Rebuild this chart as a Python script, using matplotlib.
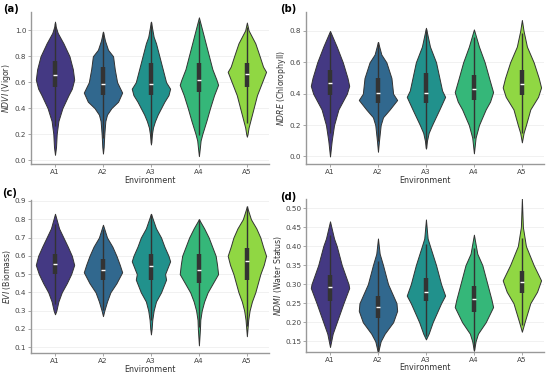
import matplotlib
matplotlib.use("Agg")
import matplotlib.pyplot as plt
import seaborn as sns
import numpy as np

envs = ["A1", "A2", "A3", "A4", "A5"]
colors = sns.color_palette("viridis", 5)

# violin outlines: (value, relative half width)
ndvi_shape = [
    [(0.04, 0), (0.1, 3), (0.2, 5), (0.3, 10), (0.4, 22), (0.5, 40), (0.55, 50), (0.62, 57),
     (0.7, 53), (0.8, 43), (0.9, 25), (0.98, 8), (1.03, 2), (1.067, 0)],
    [(0.05, 0), (0.1, 2), (0.2, 4), (0.3, 7), (0.35, 12), (0.4, 25), (0.45, 45), (0.52, 57),
     (0.6, 42), (0.7, 35), (0.8, 30), (0.85, 15), (0.92, 6), (0.99, 0)],
    [(0.12, 0), (0.2, 3), (0.25, 6), (0.3, 12), (0.35, 20), (0.4, 30), (0.45, 40), (0.5, 52),
     (0.55, 57), (0.6, 45), (0.7, 35), (0.8, 25), (0.9, 15), (0.95, 8), (1.067, 0)],
    [(0.03, 0), (0.1, 3), (0.15, 5), (0.2, 10), (0.3, 22), (0.4, 33), (0.5, 45), (0.58, 57),
     (0.62, 52), (0.7, 40), (0.8, 30), (0.9, 20), (1.0, 10), (1.1, 0)],
    [(0.18, 0), (0.2, 2), (0.25, 5), (0.32, 12), (0.4, 20), (0.5, 30), (0.6, 45), (0.68, 57),
     (0.72, 48), (0.8, 38), (0.9, 25), (0.95, 15), (1.0, 5), (1.06, 0)],
]
ndre_shape = [
    [(0.0, 0), (0.1, 5), (0.2, 12), (0.3, 25), (0.4, 50), (0.45, 57), (0.5, 52),
     (0.6, 38), (0.7, 20), (0.8, 0)],
    [(0.03, 0), (0.1, 3), (0.2, 8), (0.25, 15), (0.3, 35), (0.36, 57), (0.4, 45),
     (0.5, 40), (0.6, 25), (0.65, 10), (0.73, 0)],
    [(0.05, 0), (0.1, 3), (0.15, 8), (0.2, 18), (0.3, 40), (0.38, 57), (0.42, 48),
     (0.5, 40), (0.6, 30), (0.7, 12), (0.82, 0)],
    [(0.02, 0), (0.12, 5), (0.2, 15), (0.3, 35), (0.35, 48), (0.41, 57), (0.5, 45),
     (0.6, 32), (0.7, 15), (0.81, 0)],
    [(0.09, 0), (0.15, 5), (0.2, 12), (0.3, 25), (0.38, 48), (0.44, 57), (0.5, 50),
     (0.6, 35), (0.7, 15), (0.8, 5), (0.87, 0)],
]
evi_shape = [
    [(0.28, 0), (0.3, 4), (0.35, 10), (0.4, 20), (0.45, 35), (0.5, 48), (0.55, 57),
     (0.6, 50), (0.65, 38), (0.7, 25), (0.75, 12), (0.83, 0)],
    [(0.27, 0), (0.3, 4), (0.35, 12), (0.4, 22), (0.45, 40), (0.51, 57), (0.55, 50),
     (0.6, 40), (0.65, 28), (0.7, 12), (0.77, 0)],
    [(0.17, 0), (0.2, 2), (0.25, 4), (0.3, 8), (0.35, 15), (0.4, 30), (0.47, 45), (0.5, 42),
     (0.57, 57), (0.6, 52), (0.65, 40), (0.7, 30), (0.75, 15), (0.83, 0)],
    [(0.11, 0), (0.2, 3), (0.25, 4), (0.3, 8), (0.35, 15), (0.4, 25), (0.45, 40), (0.5, 55),
     (0.55, 52), (0.6, 48), (0.65, 38), (0.7, 28), (0.75, 15), (0.8, 0)],
    [(0.16, 0), (0.25, 4), (0.3, 8), (0.35, 15), (0.4, 25), (0.5, 40), (0.55, 50),
     (0.6, 57), (0.65, 48), (0.7, 40), (0.75, 28), (0.8, 12), (0.87, 0)],
]
ndmi_shape = [
    [(0.135, 0), (0.17, 8), (0.2, 20), (0.25, 40), (0.29, 57), (0.3, 55), (0.35, 35),
     (0.4, 20), (0.42, 12), (0.465, 0)],
    [(0.12, 0), (0.15, 8), (0.17, 20), (0.2, 45), (0.23, 57), (0.25, 55), (0.27, 45),
     (0.3, 30), (0.35, 15), (0.38, 5), (0.42, 0)],
    [(0.155, 0), (0.17, 8), (0.2, 20), (0.25, 45), (0.27, 57), (0.3, 45), (0.35, 30),
     (0.4, 12), (0.42, 5), (0.47, 0)],
    [(0.125, 0), (0.15, 5), (0.17, 12), (0.2, 35), (0.24, 57), (0.26, 52), (0.3, 40),
     (0.35, 25), (0.38, 10), (0.43, 0)],
    [(0.175, 0), (0.2, 8), (0.25, 25), (0.28, 45), (0.31, 57), (0.35, 35), (0.4, 12),
     (0.45, 3), (0.525, 0)],
]

# box statistics (lower quartile, median, upper quartile)
ndvi_q1 = [0.56, 0.50, 0.50, 0.525, 0.56]
ndvi_med = [0.655, 0.585, 0.59, 0.615, 0.66]
ndvi_q3 = [0.76, 0.72, 0.745, 0.745, 0.745]
ndre_q1 = [0.39, 0.34, 0.34, 0.36, 0.39]
ndre_med = [0.47, 0.405, 0.405, 0.43, 0.46]
ndre_q3 = [0.55, 0.50, 0.53, 0.52, 0.55]
evi_q1 = [0.50, 0.47, 0.465, 0.45, 0.47]
evi_med = [0.555, 0.52, 0.545, 0.525, 0.57]
evi_q3 = [0.61, 0.58, 0.61, 0.61, 0.64]
ndmi_q1 = [0.255, 0.21, 0.255, 0.228, 0.278]
ndmi_med = [0.292, 0.24, 0.28, 0.26, 0.307]
ndmi_q3 = [0.325, 0.27, 0.315, 0.295, 0.335]

panels = [
    ("(a)", r"$\it{NDVI}$ (Vigor)", ndvi_shape, ndvi_q1, ndvi_med, ndvi_q3,
     (-0.033, 1.144), np.arange(0, 1.01, 0.2), "%.1f"),
    ("(b)", r"$\it{NDRE}$ (Chlorophyll)", ndre_shape, ndre_q1, ndre_med, ndre_q3,
     (-0.05, 0.923), np.arange(0, 0.81, 0.2), "%.1f"),
    ("(c)", r"$\it{EVI}$ (Biomass)", evi_shape, evi_q1, evi_med, evi_q3,
     (0.068, 0.905), np.arange(0.1, 0.91, 0.1), "%.1f"),
    ("(d)", r"$\it{NDMI}$ (Water Status)", ndmi_shape, ndmi_q1, ndmi_med, ndmi_q3,
     (0.122, 0.524), np.arange(0.15, 0.501, 0.05), "%.2f"),
]

boxes = [
    [0.0564, 0.563, 0.4326, 0.406],
    [0.5564, 0.563, 0.4326, 0.406],
    [0.0564, 0.061, 0.4326, 0.407],
    [0.5564, 0.064, 0.4326, 0.407],
]
label_xy = [(0.006, 0.976), (0.51, 0.976), (0.004, 0.486), (0.51, 0.476)]

fig = plt.figure(figsize=(5.5, 3.76), dpi=100)
edge = "#333333"
spine_col = "#999999"

for k, (tag, ylab, shapes, q1s, meds, q3s, ylim, yt, fmt) in enumerate(panels):
    ax = fig.add_axes(boxes[k])
    stats = []
    for i, sh in enumerate(shapes):
        ys = np.array([p[0] for p in sh])
        ws = np.array([p[1] for p in sh], dtype=float)
        stats.append({"coords": ys, "vals": ws, "mean": meds[i], "median": meds[i],
                      "min": ys[0], "max": ys[-1]})
    pos = np.arange(len(envs))
    parts = ax.violin(stats, positions=pos, widths=0.8, showmeans=False,
                      showextrema=False, showmedians=False)
    for i, body in enumerate(parts["bodies"]):
        body.set_facecolor(colors[i])
        body.set_edgecolor(edge)
        body.set_linewidth(0.7)
        body.set_alpha(1)
        body.set_zorder(2)
    for i in range(len(envs)):
        iqr = q3s[i] - q1s[i]
        lo = max(q1s[i] - 1.5 * iqr, shapes[i][0][0])
        hi = min(q3s[i] + 1.5 * iqr, shapes[i][-1][0])
        ax.vlines(i, lo, hi, color=edge, lw=1.0, zorder=3)
        ax.vlines(i, q1s[i], q3s[i], color=edge, lw=3.2, zorder=3)
        ax.hlines(meds[i], i - 0.035, i + 0.035, color="white", lw=1.0, zorder=4)

    ax.set_xlim(-0.5, 4.46)
    ax.set_ylim(*ylim)
    ax.set_yticks(yt)
    ax.set_yticklabels([fmt % v for v in yt])
    ax.set_xticks(pos)
    ax.set_xticklabels(envs)
    ax.grid(axis="y", color="#efefef", lw=0.6, zorder=0)
    ax.set_axisbelow(True)
    for s in ["top", "right"]:
        ax.spines[s].set_visible(False)
    for s in ["left", "bottom"]:
        ax.spines[s].set_color(spine_col)
        ax.spines[s].set_linewidth(1.0)
    ax.tick_params(labelsize=5.2, colors="#999999", labelcolor="#444444",
                   length=2, width=0.6, pad=1.5)
    ax.set_xlabel("Environment", fontsize=5.8, color="#333333", labelpad=0.5)
    ax.set_ylabel(ylab, fontsize=5.6, color="#333333", labelpad=1)
    fig.text(label_xy[k][0], label_xy[k][1], tag, fontsize=7.2, fontweight="bold",
             va="center", ha="left")

fig.savefig("out.png", dpi=100)
